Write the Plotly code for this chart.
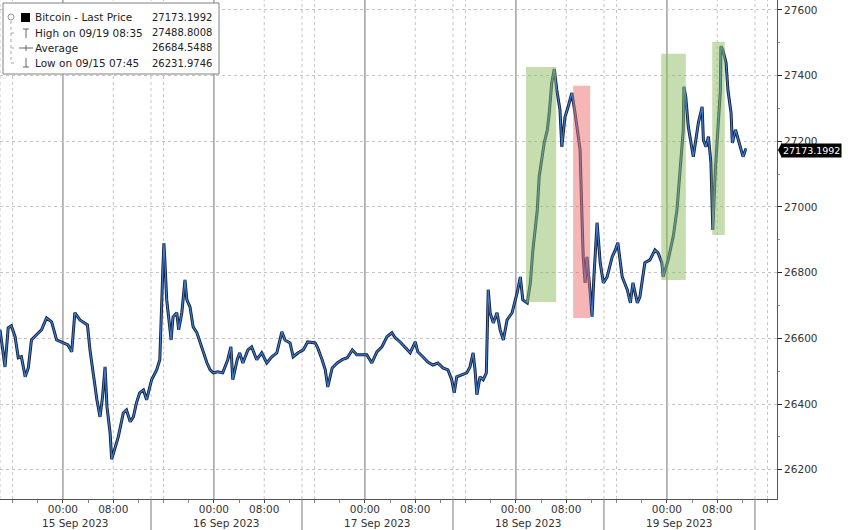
import plotly.graph_objects as go
import pandas as pd

# ---------------- data ----------------
base = pd.Timestamp("2023-09-15 00:00")
# hours relative to 15 Sep 2023 00:00
hours = [
    -10.0, -9.2, -8.7, -8.2, -7.6, -7.1, -6.6, -6.0, -5.5, -5.0,
    -4.2, -3.4, -2.6, -1.8, -1.0, 0.05, 0.8, 1.4, 1.9, 2.7,
    3.5, 3.9, 4.3, 4.8, 5.4, 5.9, 6.3, 6.7, 7.0, 7.5,
    7.75, 8.8, 9.6, 10.1, 10.7, 11.2, 11.7, 12.2, 12.8, 13.3,
    14.1, 14.9, 15.4, 15.9, 16.05, 16.2, 16.5, 16.85, 17.2, 17.5,
    18.1, 18.4, 18.9, 19.4, 19.7, 20.2, 20.7, 21.3, 21.8, 22.3,
    22.9, 23.4, 23.9, 24.6, 25.4, 26.2, 26.7, 27.0, 27.7, 28.1,
    28.6, 29.4, 30.0, 30.8, 31.6, 32.4, 33.2, 34.0, 34.8, 35.3,
    36.1, 36.6, 37.4, 38.2, 38.9, 40.1, 40.5, 41.2, 41.7, 42.1,
    42.8, 43.6, 44.4, 45.2, 46.0, 46.7, 47.5, 48.3, 49.1, 49.9,
    50.7, 51.5, 52.3, 52.8, 53.6, 54.4, 55.2, 56.0, 56.4, 57.2,
    58.0, 58.8, 59.6, 60.4, 61.2, 61.8, 62.2, 62.6, 63.4, 64.2,
    64.7, 65.2, 65.5, 65.8, 66.3, 66.8, 67.3, 67.6, 67.9, 68.4,
    69.0, 69.5, 70.0, 70.6, 71.4, 72.2, 72.7, 73.1, 73.8, 74.3,
    74.7, 75.4, 75.7, 76.2, 76.5, 77.0, 77.3, 77.7, 78.1, 78.5,
    79.0, 79.3, 79.8, 80.3, 80.9, 81.4, 81.7, 82.2, 82.5, 82.7,
    83.0, 83.3, 83.8, 84.1, 84.4, 84.9, 85.4, 85.9, 86.5, 87.3,
    87.8, 88.2, 88.9, 89.7, 90.2, 90.6, 91.3, 91.7, 92.5, 93.3,
    94.1, 94.6, 95.2, 95.4, 96.2, 97.0, 97.6, 98.1, 98.6, 98.7,
    99.0, 99.4, 99.8, 100.2, 100.6, 101.0, 101.6, 101.8, 102.2, 102.6,
    103.0, 103.3, 103.7, 104.0, 104.5, 104.58, 104.9, 105.4, 105.7, 106.2,
    106.4, 106.9, 107.2, 107.7, 108.1, 108.5, 108.7,
]
price = [
    26626, 26513, 26632, 26638, 26605, 26541, 26544, 26483, 26510, 26595,
    26611, 26626, 26662, 26650, 26595, 26586, 26580, 26559, 26678, 26656,
    26647, 26641, 26565, 26495, 26413, 26361, 26422, 26513, 26392, 26312,
    26232, 26300, 26373, 26382, 26346, 26361, 26404, 26434, 26443, 26413,
    26474, 26504, 26535, 26818, 26889, 26839, 26717, 26656, 26595, 26665,
    26678, 26626, 26678, 26778, 26717, 26696, 26635, 26617, 26586, 26556,
    26525, 26504, 26495, 26498, 26495, 26535, 26574, 26474, 26535, 26556,
    26525, 26565, 26574, 26535, 26556, 26525, 26544, 26556, 26620, 26595,
    26586, 26544, 26556, 26565, 26589, 26586, 26571, 26535, 26504, 26452,
    26510, 26525, 26535, 26541, 26565, 26550, 26550, 26550, 26525, 26559,
    26574, 26605, 26617, 26602, 26589, 26574, 26556, 26589, 26559, 26544,
    26528, 26519, 26525, 26510, 26504, 26474, 26434, 26483, 26489, 26495,
    26513, 26556, 26504, 26428, 26483, 26474, 26495, 26748, 26678, 26647,
    26678, 26626, 26595, 26656, 26678, 26739, 26787, 26717, 26708, 26769,
    26869, 26991, 27092, 27153, 27195, 27235, 27286, 27378, 27420, 27356,
    27296, 27183, 27274, 27305, 27347, 27286, 27244, 27174, 26970, 26848,
    26769, 26848, 26739, 26666, 26787, 26952, 26830, 26769, 26787, 26848,
    26869, 26891, 26787, 26748, 26708, 26769, 26708, 26726, 26830, 26839,
    26869, 26860, 26830, 26787, 26839, 26909, 26991, 27104, 27235, 27366,
    27335, 27244, 27204, 27153, 27204, 27256, 27305, 27204, 27183, 27214,
    27134, 26930, 27113, 27204, 27356, 27489, 27478, 27439, 27356, 27286,
    27195, 27235, 27214, 27183, 27153, 27174, 27173,
]

# highlighted windows: (start hour, end hour, low, high, kind)
box_start = [73.6, 81.1, 95.1, 103.2]
box_end = [78.4, 83.8, 99.0, 105.2]
box_low = [26711, 26662, 26778, 26915]
box_high = [27426, 27369, 27466, 27503]
box_kind = ["up", "down", "up", "up"]

legend_labels = ["Bitcoin - Last Price", "High on 09/19 08:35", "Average", "Low on 09/15 07:45"]
legend_values = ["27173.1992", "27488.8008", "26684.5488", "26231.9746"]
last_price = 27173.1992
last_label = "27173.1992"

days = ["2023-09-15", "2023-09-16", "2023-09-17", "2023-09-18", "2023-09-19"]
date_labels = ["15 Sep 2023", "16 Sep 2023", "17 Sep 2023", "18 Sep 2023", "19 Sep 2023"]

# ---------------- figure ----------------
W, H = 848, 530
ML, MR, MT, MB = 0, 71, 0, 31
PW, PH = W - ML - MR, H - MT - MB
FONT = "DejaVu Sans"
TXT = "#333333"


def px(x):
    return x / PW


def py(y):
    return 1 - y / PH


t = [base + pd.Timedelta(hours=h) for h in hours]
x_start = base + pd.Timedelta(hours=-10.0)
x_end = base + pd.Timedelta(hours=113.5)

fig = go.Figure()
fig.add_trace(go.Scatter(x=t, y=price, mode="lines",
                         line=dict(color="#14213a", width=3), hoverinfo="skip"))
fig.add_trace(go.Scatter(x=t, y=price, mode="lines",
                         line=dict(color="#3d7bd0", width=1.2)))

shapes = []
# vertical grid lines
for d in ["2023-09-14"] + days:
    day = pd.Timestamp(d)
    for hh, style in [(0, "solid"), (8, "dot"), (16, "dot"), (14, "dot")]:
        tt = day + pd.Timedelta(hours=hh)
        if tt < x_start or tt > x_end:
            continue
        if style == "solid":
            shapes.append(dict(type="line", xref="x", yref="paper", x0=tt, x1=tt, y0=0, y1=1,
                               line=dict(color="#a0a0a0", width=1.5), layer="below"))
        else:
            shapes.append(dict(type="line", xref="x", yref="paper", x0=tt, x1=tt, y0=0, y1=1,
                               line=dict(color="#c4c4c4", width=1, dash="dot"), layer="below"))
        if hh == 14 and tt > x_start:
            shapes.append(dict(type="line", xref="x", yref="paper", x0=tt, x1=tt, y0=0, y1=-MB / PH,
                               line=dict(color="#777777", width=1), layer="above"))

# highlighted windows
for s, e, lo, hi, k in zip(box_start, box_end, box_low, box_high, box_kind):
    col = "rgb(140,188,95)" if k == "up" else "rgb(238,110,110)"
    shapes.append(dict(type="rect", xref="x", yref="y",
                       x0=base + pd.Timedelta(hours=s), x1=base + pd.Timedelta(hours=e),
                       y0=lo, y1=hi, fillcolor=col, opacity=0.5, line=dict(width=0), layer="above"))

# legend box
shapes.append(dict(type="rect", xref="paper", yref="paper", x0=px(3), x1=px(219), y0=py(74), y1=py(3),
                   fillcolor="white", line=dict(color="#808080", width=1), layer="above"))
# legend icons
shapes.append(dict(type="rect", xref="paper", yref="paper", x0=px(21), x1=px(30), y0=py(22), y1=py(13),
                   fillcolor="black", line=dict(width=0), layer="above"))
icon = dict(color="#666666", width=1)
for (x0, y0, x1, y1) in [(26, 29, 26, 38), (23, 29, 29, 29),
                         (19, 48, 33, 48), (26, 45, 26, 51),
                         (26, 58, 26, 67), (23, 67, 29, 67)]:
    shapes.append(dict(type="line", xref="paper", yref="paper", x0=px(x0), x1=px(x1),
                       y0=py(y0), y1=py(y1), line=icon, layer="above"))
shapes.append(dict(type="circle", xref="paper", yref="paper", x0=px(8), x1=px(14), y0=py(20), y1=py(14),
                   line=dict(color="#999999", width=1), fillcolor="white", layer="above"))
shapes.append(dict(type="line", xref="paper", yref="paper", x0=px(11), x1=px(11), y0=py(21), y1=py(63),
                   line=dict(color="#aaaaaa", width=1, dash="dot"), layer="above"))
for yy in [33, 48, 63]:
    shapes.append(dict(type="line", xref="paper", yref="paper", x0=px(11), x1=px(17), y0=py(yy), y1=py(yy),
                       line=dict(color="#aaaaaa", width=1, dash="dot"), layer="above"))

# last price pointer
shapes.append(dict(type="path", xref="paper", yref="y",
                   path=f"M {1 + 1 / PW},{last_price} L {1 + 5 / PW},{last_price + 24} "
                        f"L {1 + 5 / PW},{last_price - 24} Z",
                   fillcolor="black", line=dict(width=0), layer="above"))

annotations = []
rows_y = [17, 33, 48, 63]
for lab, val, yy in zip(legend_labels, legend_values, rows_y):
    annotations.append(dict(xref="paper", yref="paper", x=px(33), y=py(yy), text=lab, showarrow=False,
                            xanchor="left", yanchor="middle", font=dict(family=FONT, size=10.5, color="#222")))
    annotations.append(dict(xref="paper", yref="paper", x=px(214), y=py(yy), text=val, showarrow=False,
                            xanchor="right", yanchor="middle", font=dict(family=FONT, size=10, color="#222")))

for d, lab in zip(days, date_labels):
    annotations.append(dict(xref="x", yref="paper", x=pd.Timestamp(d) + pd.Timedelta(hours=2), y=0,
                            yshift=-24, text=lab, showarrow=False, xanchor="center", yanchor="middle",
                            font=dict(family=FONT, size=10.5, color=TXT)))

annotations.append(dict(xref="paper", yref="y", x=1, xshift=4, y=last_price, text=last_label,
                        showarrow=False, xanchor="left", yanchor="middle", bgcolor="black",
                        borderpad=1, font=dict(family=FONT, size=9.5, color="white")))

tickvals, ticktext = [], []
for d in days:
    for hh in (0, 8):
        tickvals.append(pd.Timestamp(d) + pd.Timedelta(hours=hh))
        ticktext.append(f"{hh:02d}:00")

fig.update_layout(
    width=W, height=H,
    margin=dict(l=ML, r=MR, t=MT, b=MB, pad=0),
    paper_bgcolor="white", plot_bgcolor="white",
    showlegend=False,
    shapes=shapes, annotations=annotations,
    font=dict(family=FONT, size=10, color=TXT),
    xaxis=dict(range=[x_start, x_end], tickvals=tickvals, ticktext=ticktext,
               showgrid=False, zeroline=False, showline=True, linecolor="#555555", linewidth=1,
               ticks="outside", ticklen=3, tickcolor="#444444", ticklabelstandoff=-3,
               tickfont=dict(family=FONT, size=10.5, color=TXT),
               minor=dict(dtick=4 * 3600 * 1000, tick0="2023-09-15", ticks="outside", ticklen=3,
                          tickcolor="#888888", showgrid=False),
               automargin=False),
    yaxis=dict(side="right", range=[26111, 27630], tick0=26200, dtick=200, tickformat="d",
               showgrid=True, gridcolor="#c4c4c4", griddash="dot", gridwidth=1,
               zeroline=False, showline=True, linecolor="#555555", linewidth=1,
               ticks="outside", ticklen=4, tickcolor="#222222",
               tickfont=dict(family=FONT, size=10.5, color=TXT),
               minor=dict(dtick=100, ticks="outside", ticklen=2, tickcolor="#888888", showgrid=False),
               automargin=False),
)

fig.write_html("out.html", config={"displayModeBar": False},
               post_script="document.body.style.margin='0';document.body.style.padding='0';")
